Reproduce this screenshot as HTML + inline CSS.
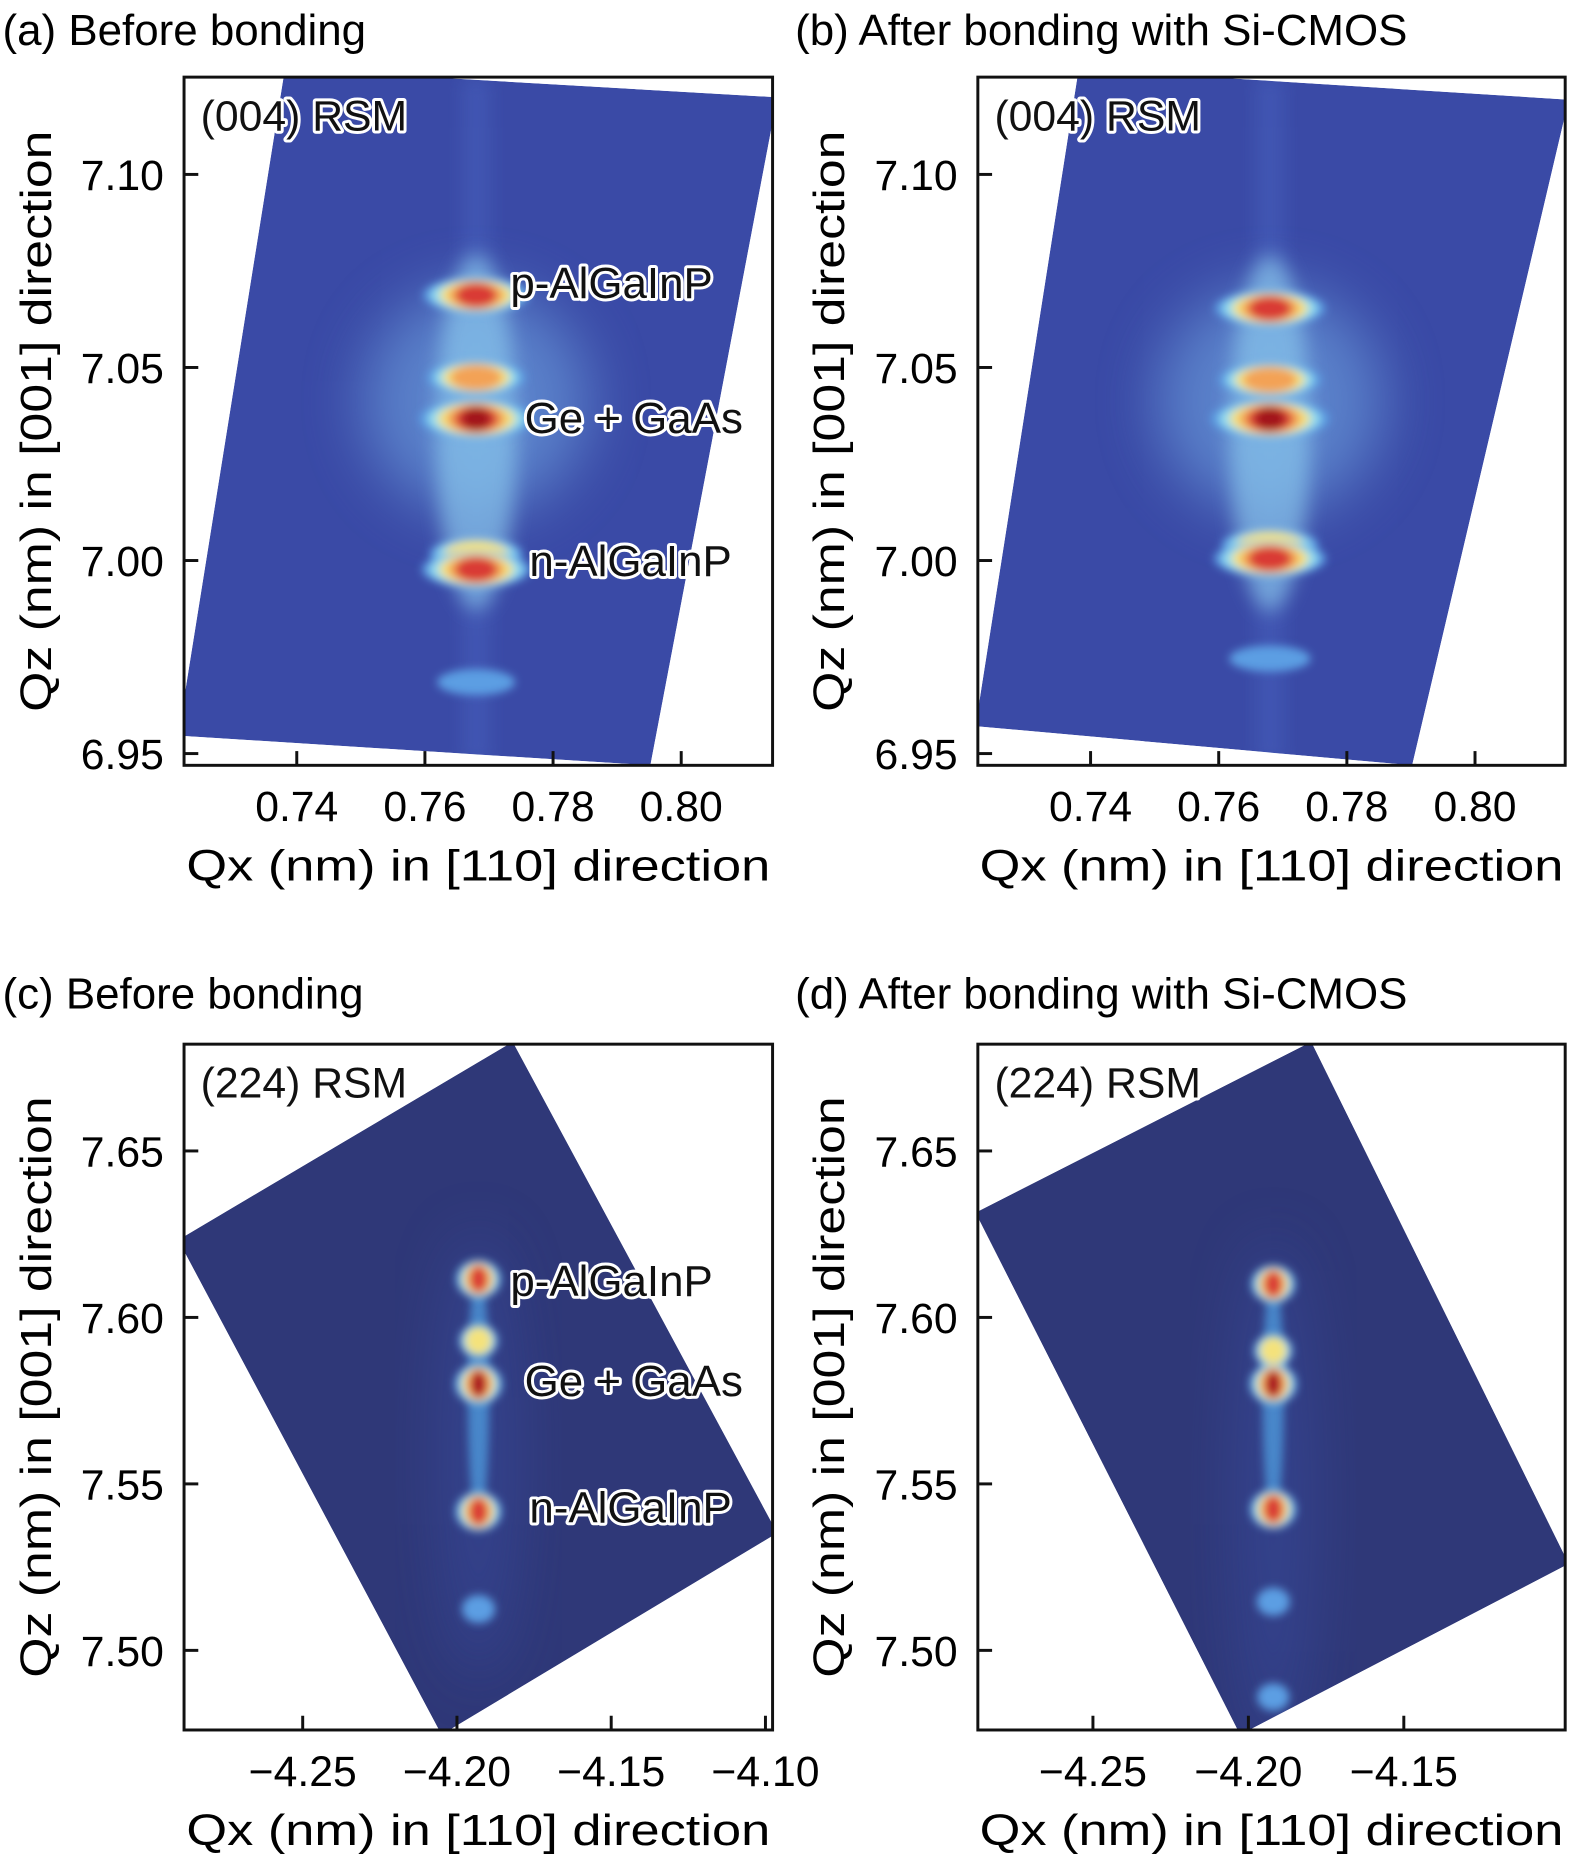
<!DOCTYPE html>
<html><head><meta charset="utf-8"><style>
html,body{margin:0;padding:0;background:#fff;}
svg{display:block;font-family:"Liberation Sans",sans-serif;}
.lab{fill:#111;stroke:#fff;stroke-width:5;paint-order:stroke;stroke-linejoin:round;}
</style></head><body>
<svg id="fig" width="1576" height="1870" viewBox="0 0 1328 1576">
<defs>
<filter id="blur" x="-50%" y="-50%" width="200%" height="200%"><feGaussianBlur stdDeviation="3.5"/></filter>
<filter id="blurBig" x="-50%" y="-50%" width="200%" height="200%"><feGaussianBlur stdDeviation="25"/></filter>
<filter id="blurS" x="-50%" y="-50%" width="200%" height="200%"><feGaussianBlur stdDeviation="8"/></filter>
</defs>
</svg>
<script>
// ---- data ----
const qzTicks004 = [7.10, 7.05, 7.00, 6.95];
const qxTicks004 = [0.74, 0.76, 0.78, 0.80];
const qzTicks224 = [7.65, 7.60, 7.55, 7.50];
const qxTicksC = [-4.25, -4.20, -4.15, -4.10];
const qxTicksD = [-4.25, -4.20, -4.15];
const peakQxA = 0.768, peakQxB = 0.768, peakQxC = -4.193, peakQxD = -4.192;
const peakQzA = [7.0687, 7.0474, 7.0367, 7.0017, 6.9977, 6.9685];
const peakIA  = [0.85, 0.7, 1.0, 0.6, 0.9, 0.3];
const peakQzB = [7.0653, 7.0468, 7.0367, 7.0040, 7.0005, 6.9746];
const peakIB  = [0.85, 0.7, 1.0, 0.6, 0.88, 0.3];
const peakQzC = [7.6115, 7.593, 7.580, 7.5417, 7.5124];
const peakIC  = [0.88, 0.55, 1.0, 0.93, 0.25];
const peakQzD = [7.610, 7.590, 7.580, 7.5424, 7.5146, 7.486];
const peakID  = [0.85, 0.55, 1.0, 0.93, 0.25, 0.2];
const labelsTop = ["p-AlGaInP", "Ge + GaAs", "n-AlGaInP"];
const labelQz004 = [7.072, 7.037, 7.000];
const labelQz224 = [7.611, 7.581, 7.543];

const NS = "http://www.w3.org/2000/svg";
const svg = document.getElementById('fig');
function mk(tag, attrs, parent){const e=document.createElementNS(NS,tag);for(const k in attrs)e.setAttribute(k,attrs[k]);(parent||svg).appendChild(e);return e;}

const levels = [0.12, 0.3, 0.5, 0.68, 0.82, 0.95];
const lvlColor = ['#5b9ee3', '#95def0', '#f4e27c', '#f3a257', '#d93a35', '#a3121e'];
const lvlScale = [1, 0.85, 0.68, 0.52, 0.38, 0.25];

const panels = [
 {id:'a', title:'(a) Before bonding', tx:2, ty:38, x0:155, x1:651, y0:65, y1:645,
  sx:q=>250+(q-0.74)/0.02*108, sy:q=>147+(7.10-q)/0.05*162.7,
  xt:qxTicks004, yt:qzTicks004, tlr:138, yTitleX:30,
  poly:'240,58 655,82 548,645 150,620', bg:'#3a4aa6', qx:peakQxA, qz:peakQzA, I:peakIA, rx:48, ry:16,
  rsm:'(004) RSM', labels:true, lq:labelQz004, glow:true},
 {id:'b', title:'(b) After bonding with Si-CMOS', tx:670, ty:38, x0:824, x1:1319, y0:65, y1:645,
  sx:q=>919+(q-0.74)/0.02*108, sy:q=>147+(7.10-q)/0.05*162.7,
  xt:qxTicks004, yt:qzTicks004, tlr:807, yTitleX:698,
  poly:'909,58 1322,84 1190,645 822,612', bg:'#3a4aa6', qx:peakQxB, qz:peakQzB, I:peakIB, rx:50, ry:16,
  rsm:'(004) RSM', labels:false, glow:true},
 {id:'c', title:'(c) Before bonding', tx:2, ty:850, x0:155, x1:651, y0:880, y1:1458,
  sx:q=>255+(q+4.25)/0.05*130, sy:q=>970+(7.65-q)/0.05*140.3,
  xt:qxTicksC, yt:qzTicks224, tlr:138, yTitleX:30,
  poly:'432,878 655,1292 372,1462 150,1045', bg:'#2f3878', qx:peakQxC, qz:peakQzC, I:peakIC, rx:20, ry:17,
  rsm:'(224) RSM', labels:true, lq:labelQz224, glow:false},
 {id:'d', title:'(d) After bonding with Si-CMOS', tx:670, ty:850, x0:824, x1:1319, y0:880, y1:1458,
  sx:q=>921+(q+4.25)/0.05*131, sy:q=>970+(7.65-q)/0.05*140.3,
  xt:qxTicksD, yt:qzTicks224, tlr:807, yTitleX:698,
  poly:'1105,878 1322,1318 1045,1462 822,1022', bg:'#2f3878', qx:peakQxD, qz:peakQzD, I:peakID, rx:20, ry:17,
  rsm:'(224) RSM', labels:false, glow:false}
];

function fmtX(v){return (v<0?'\u2212':'')+Math.abs(v).toFixed(2);}

panels.forEach(p=>{
  const g = mk('g', {});
  
  
  const t = mk('text', {x:p.tx, y:p.ty, 'font-size':37}, g);
  t.textContent = p.title;
  
  

  const cp = mk('clipPath', {id:'clip'+p.id}, g);
  mk('rect', {x:p.x0, y:p.y0, width:p.x1-p.x0, height:p.y1-p.y0}, cp);
  const cpp = mk('clipPath', {id:'clipp'+p.id}, g);
  mk('polygon', {points:p.poly}, cpp);
  const plot = mk('g', {'clip-path':'url(#clip'+p.id+')'}, g);
  
  
  const inner = mk('g', {'clip-path':'url(#clipp'+p.id+')'}, plot);
  mk('polygon', {points:p.poly, fill:p.bg}, inner);

  const cx = p.sx(p.qx);
  const yTop = p.sy(Math.max(...p.qz))-40, yBot = p.sy(Math.min(...p.qz))+60;
  if(p.glow){
    mk('rect', {x:cx-12, y:p.y0, width:24, height:p.y1-p.y0, fill:'#4a64c0', opacity:0.5, filter:'url(#blurS)'}, inner);
    const gy = p.sy(p.qz[2]);
    mk('ellipse', {cx:cx, cy:gy-15, rx:95, ry:95, fill:'#6fa6e2', opacity:0.6, filter:'url(#blurBig)'}, inner);
    mk('ellipse', {cx:cx, cy:(p.sy(p.qz[0])+p.sy(p.qz[4]))/2, rx:34, ry:150, fill:'#8ccbee', opacity:0.65, filter:'url(#blurS)'}, inner);
  } else {
    mk('ellipse', {cx:cx, cy:(yTop+yBot)/2, rx:35, ry:(yBot-yTop)/2, fill:'#3a4fa6', opacity:0.45, filter:'url(#blurBig)'}, inner);
    mk('ellipse', {cx:cx, cy:(p.sy(p.qz[0])+p.sy(p.qz[3]))/2, rx:9, ry:(p.sy(p.qz[3])-p.sy(p.qz[0]))/2+10, fill:'#4f9ee0', opacity:0.75, filter:'url(#blur)'}, inner);
  }
  const pk = mk('g', {filter:'url(#blur)'}, inner);
  p.qz.forEach((q,i)=>{
    const I = p.I[i];
    const cy = p.sy(q);
    const sc = p.glow ? (0.55 + 0.45*I) : (0.6 + 0.4*I);
    levels.forEach((l,k)=>{
      if(l < I){
        const e = mk('ellipse', {cx:cx, cy:cy, rx:p.rx*sc*lvlScale[k], ry:p.ry*sc*(0.5+0.5*lvlScale[k]), fill:lvlColor[k]}, pk);
        
        
      }
    });
  });

  mk('rect', {x:p.x0, y:p.y0, width:p.x1-p.x0, height:p.y1-p.y0, fill:'none', stroke:'#111', 'stroke-width':2.5}, g);
  p.yt.forEach(v=>{
    const y = p.sy(v);
    mk('line', {x1:p.x0, x2:p.x0+12, y1:y, y2:y, stroke:'#111', 'stroke-width':2.5}, g);
    const tt = mk('text', {x:p.tlr, y:y+13, 'font-size':36, 'text-anchor':'end'}, g);
    tt.textContent = v.toFixed(2);
    
    
  });
  p.xt.forEach(v=>{
    const x = p.sx(v);
    mk('line', {x1:x, x2:x, y1:p.y1, y2:p.y1-12, stroke:'#111', 'stroke-width':2.5}, g);
    const tt = mk('text', {x:x, y:p.y1+47, 'font-size':36, 'text-anchor':'middle'}, g);
    tt.textContent = fmtX(v);
    
    
  });
  const xt = mk('text', {x:(p.x0+p.x1)/2, y:p.y1+97, 'font-size':37, 'text-anchor':'middle', textLength:492, lengthAdjust:'spacingAndGlyphs'}, g);
  xt.textContent = 'Qx (nm) in [110] direction';
  
  
  const yc = (p.y0+p.y1)/2;
  const yt = mk('text', {x:0, y:0, 'font-size':37, 'text-anchor':'middle', textLength:490, lengthAdjust:'spacingAndGlyphs', transform:`translate(${p.yTitleX+13},${yc}) rotate(-90)`}, g);
  yt.textContent = 'Qz (nm) in [001] direction';
  
  
  const rs = mk('text', {x:p.x0+14, y:p.y0+45, 'font-size':36, class:'lab'}, g);
  rs.textContent = p.rsm;
  
  
  if(p.labels){
    const lx = [430, 442, 446];
    labelsTop.forEach((s,i)=>{
      const l = mk('text', {x:lx[i], y:p.sy(p.lq[i])+13, 'font-size':37, class:'lab'}, g);
      l.textContent = s;
      
      
    });
  }
});
</script>
</body></html>
